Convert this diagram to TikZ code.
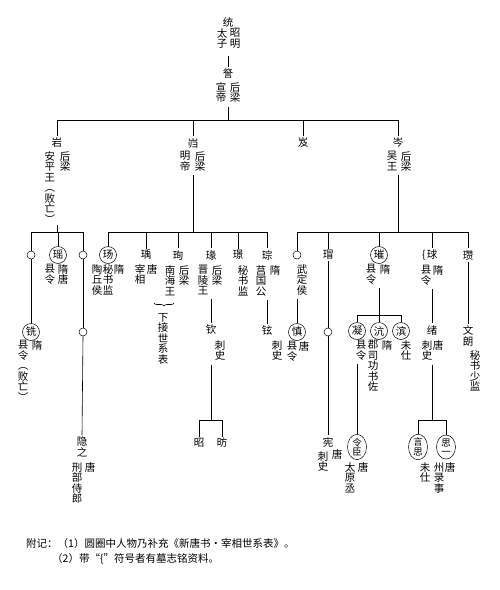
\documentclass[tikz,border=0pt]{standalone}
\usepackage{fontspec}
\newfontfamily\cjk{Noto Sans CJK SC}
\usetikzlibrary{shapes.geometric,decorations.pathreplacing}
\tikzset{
	nm/.style={font=\cjk\fontsize{10.5}{10.5}\selectfont, inner sep=1.5pt, align=center},
	col/.style={font=\cjk\fontsize{10.5}{10.5}\selectfont, inner sep=0pt, align=center, anchor=north, yshift=4.8pt},
	ring/.style={nm, circle, draw, line width=0.5pt, minimum size=17pt, inner sep=0pt},
	blank/.style={circle, draw, line width=0.5pt, minimum size=8pt, inner sep=0pt},
	oval/.style={nm, ellipse, draw, line width=0.5pt, minimum width=19pt, minimum height=24pt, inner sep=0pt, font=\cjk\fontsize{9.5}{9.5}\selectfont},
	conn/.style={line width=0.6pt},
	drop/.style={conn, shorten <=4pt},
}

\begin{document}
\begin{tikzpicture}[x=1pt,y=-1pt]
			%%%%% START %%%%%
			\useasboundingbox (0,0) rectangle (500,590);
			
			%%%%% generation 0
			\node[nm] (tong) at (228,22) {统};
			\node[col] (tongL) at (222,33) {太\\子};
			\node[col] (tongR) at (235,33) {昭\\明};
			\node[nm] (cha) at (228,74) {詧};
			\node[col] (chaL) at (221,87) {宣\\帝};
			\node[col] (chaR) at (235,87) {后\\梁};
			\draw[drop, shorten <=7pt] (tongL.south -| tong) -- (cha.north);
			
			%%%%% generation 1
			\coordinate (b1) at (0,120);
			\node[nm] (yan) at (57,143) {岩};
			\node[col] (yanL) at (50,156) {安\\平\\王\\︵\\败\\亡\\︶};
			\node[col] (yanR) at (65,156) {后\\梁};
			\node[nm] (kui) at (193,143) {岿};
			\node[col] (kuiL) at (185,156) {明\\帝};
			\node[col] (kuiR) at (200,156) {后\\梁};
			\node[nm] (ji) at (303,143) {岌};
			\node[nm] (cen) at (398,143) {岑};
			\node[col] (cenL) at (392,156) {吴\\王};
			\node[col] (cenR) at (406,156) {后\\梁};
			
			\draw[drop] (chaL.south -| cha) -- (cha |- b1);
			\draw[conn] (yan.north) |- (cen |- b1) -- (cen.north);
			\foreach \n in {kui, ji} \draw[conn] (\n.north) -- (\n |- b1);
			
			%%%%% generation 2
			\coordinate (b2) at (0,232);
			\node[blank] (yan1) at (31,255) {};
			\node[ring] (yao) at (58,255) {瑶};
			\node[col] (yaoL) at (50,269) {县\\令};
			\node[col] (yaoR) at (63,269) {隋\\唐};
			\node[blank] (yan3) at (83,255) {};
			
			\node[ring] (yang) at (108,255) {玚};
			\node[col] (yangA) at (97,269) {陶\\丘\\侯};
			\node[col] (yangB) at (108,269) {秘\\书\\监};
			\node[col] (yangC) at (119,269) {隋};
			\node[nm] (yu) at (146,255) {瑀};
			\node[col] (yuL) at (140,269) {宰\\相};
			\node[col] (yuR) at (152,269) {唐};
			\node[nm] (xun) at (178,255) {珣};
			\node[col] (xunL) at (170,270) {南\\海\\王};
			\node[col] (xunR) at (184,270) {后\\梁};
			\node[nm] (zhuan) at (211,255) {瑑};
			\node[col] (zhuanL) at (203,270) {晋\\陵\\王};
			\node[col] (zhuanR) at (217,270) {后\\梁};
			\node[nm] (jing) at (238,255) {璟};
			\node[col] (jingR) at (243,270) {秘\\书\\监};
			\node[nm] (cong) at (267,255) {琮};
			\node[col] (congL) at (261,270) {莒\\国\\公};
			\node[col] (congR) at (275,270) {隋};
			
			\node[blank] (cen1) at (297,255) {};
			\node[col] (cen1R) at (302,269) {武\\定\\侯};
			\node[nm] (mao) at (328,255) {瑁};
			\node[ring] (cui) at (379,255) {璀};
			\node[col] (cuiL) at (371,269) {县\\令};
			\node[col] (cuiR) at (385,269) {隋};
			\node[nm] (qiu) at (432,255) {球};
			\node[nm, inner sep=0pt] (qmark) at (424,255) {\{};
			\node[col] (qiuL) at (426,270) {县\\令};
			\node[col] (qiuR) at (438,270) {隋};
			\node[nm] (zan) at (468,255) {瓒};
			
			\draw[drop, shorten <=2pt] (yanL.south -| yan) -- (yan |- b2);
			\draw[conn] (yan1.north) |- (yan3 |- b2) -- (yan3.north);
			\draw[conn] (yao.north) -- (yao |- b2);
			\draw[drop] (kuiL.south -| kui) -- (kui |- b2);
			\draw[conn] (yang.north) |- (cong |- b2) -- (cong.north);
			\foreach \n in {yu, xun, zhuan, jing} \draw[conn] (\n.north) -- (\n |- b2);
			\draw[drop] (cenL.south -| cen) -- (cen |- b2);
			\draw[conn] (cen1.north) |- (zan |- b2) -- (zan.north);
			\foreach \n in {mao, cui, qiu} \draw[conn] (\n.north) -- (\n |- b2);
			
			%%%%% generation 3
			\coordinate (b3) at (0,315);
			\node[ring] (xian) at (31,332) {铣};
			\node[col] (xianL) at (23,345) {县\\令\\︵\\败\\亡\\︶};
			\node[col] (xianR) at (37,345) {隋};
			\node[blank] (yan3b) at (83,332) {};
			\draw[conn, decorate, decoration={brace, mirror, amplitude=3pt}] (154,303) -- (174,303);
			\node[col] (xiajie) at (163,318) {下\\接\\世\\系\\表};
			\node[nm] (qin) at (211,330) {钦};
			\node[col] (qinR) at (220,345) {刺\\史};
			\node[nm] (xuan) at (267,330) {铉};
			\node[col] (xuanR) at (277,345) {刺\\史};
			\node[ring] (shen) at (297,332) {慎};
			\node[col] (shenL) at (292,346) {县\\令};
			\node[col] (shenR) at (304,346) {唐};
			\node[blank] (mao2) at (328,332) {};
			\node[ring] (ning) at (357,331) {凝};
			\node[col] (ningR) at (361,345) {县\\令};
			\node[ring] (hang) at (379,331) {沆};
			\node[col] (hangL) at (373,345) {郡\\司\\功\\书\\佐};
			\node[col] (hangR) at (387,345) {隋};
			\node[ring] (bin) at (401,331) {滨};
			\node[col] (binR) at (406,345) {未\\仕};
			\node[nm] (xu) at (432,330) {绪};
			\node[col] (xuL) at (427,345) {刺\\史};
			\node[col] (xuR) at (438,345) {唐};
			\node[nm] (wenlang) at (468,336) {文\\朗};
			\node[col] (wenlangR) at (475,355) {秘\\书\\少\\监};
			
			\draw[conn] (yan1.south) -- (xian.north);
			\draw[conn] (yan3.south) -- (yan3b.north);
			\draw[drop] (zhuanL.south -| zhuan) -- (qin.north);
			\draw[drop] (congL.south -| cong) -- (xuan.north);
			\draw[drop] (cen1R.south -| cen1) -- (shen.north);
			\draw[conn] (mao.south) -- (mao2.north);
			\draw[drop] (cuiL.south -| cui) -- (cui |- b3);
			\draw[conn] (ning.north) |- (bin |- b3) -- (bin.north);
			\draw[conn] (hang.north) -- (hang |- b3);
			\draw[drop] (qiuL.south -| qiu) -- (xu.north);
			\draw[conn] (zan.south) -- (wenlang.north);
			
			%%%%% generation 4
			\coordinate (b4) at (0,420);
			\node[nm] (yinzhi) at (82,447) {隐\\之};
			\node[col] (yinzhiL) at (77,467) {刑\\部\\侍\\郎};
			\node[col] (yinzhiR) at (90,467) {唐};
			\node[nm] (zhao) at (199,443) {昭};
			\node[nm] (fang) at (222,443) {昉};
			\node[nm] (xianshi) at (328,442) {宪};
			\node[col] (xianshiL) at (323,456) {刺\\史};
			\node[col] (xianshiR) at (337,454) {唐};
			\node[oval] (lingchen) at (357,447) {令\\臣};
			\node[col] (lingchenL) at (350,467) {太\\原\\丞};
			\node[col] (lingchenR) at (363,467) {唐};
			\node[oval] (yansi) at (418,447) {言\\思};
			\node[col] (yansiR) at (425,467) {未\\仕};
			\node[oval] (siyi) at (446,447) {思\\一};
			\node[col] (siyiL) at (439,467) {州\\录\\事};
			\node[col] (siyiR) at (450,467) {唐};
			
			\draw[conn] (yan3b.south) -- (yinzhi.north);
			\draw[drop] (qinR.south -| qin) -- (qin |- b4);
			\draw[conn] (zhao.north) |- (fang |- b4) -- (fang.north);
			\draw[conn] (mao2.south) -- (xianshi.north);
			\draw[drop] (ningR.south -| ning) -- (lingchen.north);
			\draw[drop] (xuL.south -| xu) -- (xu |- b4);
			\draw[conn] (yansi.north) |- (siyi |- b4) -- (siyi.north);
			
			%%%%% notes
			\node[nm, anchor=west, inner sep=0pt] (note1) at (26,544) {附记：（1）圆圈中人物乃补充《新唐书·宰相世系表》。};
			\node[nm, anchor=west, inner sep=0pt] (note2) at (52,559) {（2）带“\{”符号者有墓志铭资料。};
			
			%%%%% END %%%%%
\end{tikzpicture}
\end{document}
